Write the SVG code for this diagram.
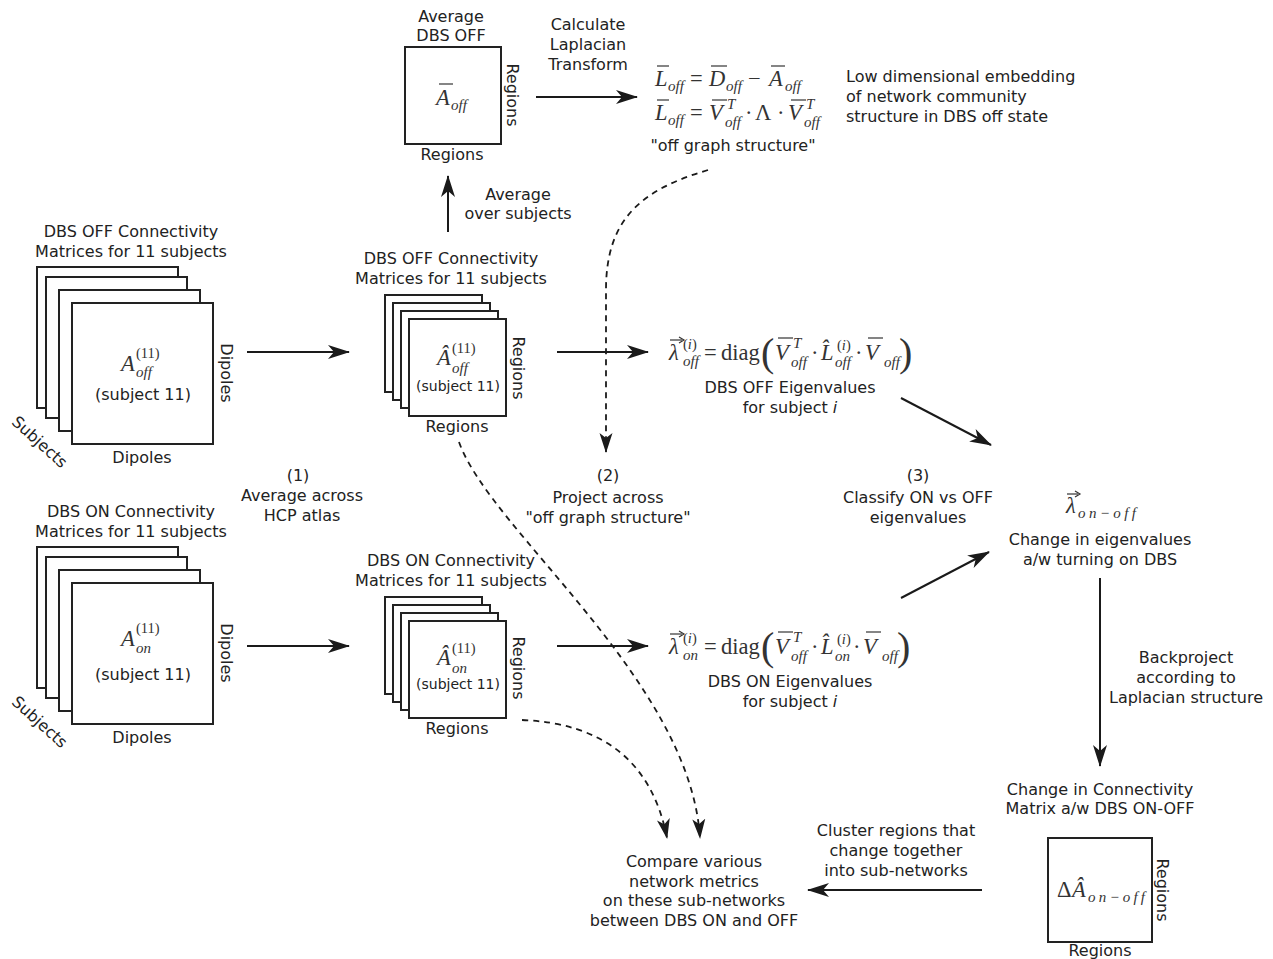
<svg xmlns="http://www.w3.org/2000/svg" width="1273" height="959" viewBox="0 0 1273 959">
<defs>
<style>
.t{font-family:"DejaVu Sans",Verdana,sans-serif;font-size:15.5px;fill:#222;text-anchor:middle}
.tl{font-family:"DejaVu Sans",Verdana,sans-serif;font-size:15.5px;fill:#222}
.s14{font-size:14px}
.s16{font-size:16px}
.m{font-family:"Liberation Serif",serif;font-style:italic;font-size:22.5px;fill:#333}
.mu{font-family:"Liberation Serif",serif;font-size:22.5px;fill:#333}
.ms{font-family:"Liberation Serif",serif;font-style:italic;font-size:15px;fill:#333}
.msu{font-family:"Liberation Serif",serif;font-size:14.5px;fill:#333}
.par{font-family:"Liberation Serif",serif;font-size:40px;fill:#333}
.box{fill:#fff;stroke:#222;stroke-width:2}
.ov{stroke:#333;stroke-width:1.2}
.ln{fill:none;stroke:#1a1a1a;stroke-width:2}
.dl{fill:none;stroke:#1a1a1a;stroke-width:1.8;stroke-dasharray:6 5}
</style>
<marker id="ah" viewBox="0 0 22 16" refX="21" refY="8" markerWidth="22" markerHeight="16" markerUnits="userSpaceOnUse" orient="auto"><path d="M0,1 L22,8 L0,15 L6,8 z" fill="#1a1a1a"/></marker>
<marker id="ahd" viewBox="0 0 20 14" refX="19" refY="7" markerWidth="20" markerHeight="14" markerUnits="userSpaceOnUse" orient="auto"><path d="M0,0.5 L20,7 L0,13.5 L5,7 z" fill="#1a1a1a"/></marker>
</defs>

<g id="connectors">
<line class="ln" x1="536" y1="97" x2="637" y2="97" marker-end="url(#ah)"/>
<line class="ln" x1="448" y1="232" x2="448" y2="176" marker-end="url(#ah)"/>
<line class="ln" x1="247" y1="352" x2="349" y2="352" marker-end="url(#ah)"/>
<line class="ln" x1="557" y1="352" x2="648" y2="352" marker-end="url(#ah)"/>
<line class="ln" x1="901" y1="398" x2="991" y2="445" marker-end="url(#ah)"/>
<line class="ln" x1="247" y1="646" x2="349" y2="646" marker-end="url(#ah)"/>
<line class="ln" x1="557" y1="646" x2="648" y2="646" marker-end="url(#ah)"/>
<line class="ln" x1="901" y1="598" x2="989" y2="552" marker-end="url(#ah)"/>
<line class="ln" x1="1100" y1="578" x2="1100" y2="766" marker-end="url(#ah)"/>
<line class="ln" x1="982" y1="890" x2="808" y2="890" marker-end="url(#ah)"/>
<path class="dl" d="M708,170 C640,190 606,220 606,290 L606,452" marker-end="url(#ahd)"/>
<path class="dl" d="M459,442 C490,530 690,680 700,838" marker-end="url(#ahd)"/>
<path class="dl" d="M522,720 Q645,725 667,838" marker-end="url(#ahd)"/>
</g>

<g id="avg-off">
<text class="t s16" x="451" y="22">Average</text>
<text class="t s16" x="451" y="41">DBS OFF</text>
<rect class="box" x="405" y="47" width="96" height="97"/>
<text class="m" x="436" y="105">A</text>
<line class="ov" x1="439" y1="84" x2="453" y2="84"/>
<text class="ms" x="451" y="110">off</text>
<text class="t s16" transform="translate(507,95) rotate(90)">Regions</text>
<text class="t s16" x="452" y="160">Regions</text>
</g>

<g id="laplacian-label">
<text class="t s16" x="588" y="30">Calculate</text>
<text class="t s16" x="588" y="50">Laplacian</text>
<text class="t s16" x="588" y="70">Transform</text>
</g>

<g id="laplacian">
<text class="m" x="655" y="86">L</text>
<line class="ov" x1="657" y1="66" x2="669" y2="66"/>
<text class="ms" x="668" y="91">off</text>
<text class="mu" x="690" y="86">=</text>
<text class="m" x="709" y="86">D</text>
<line class="ov" x1="711" y1="66" x2="727" y2="66"/>
<text class="ms" x="726" y="91">off</text>
<text class="mu" x="748" y="86">−</text>
<text class="m" x="769" y="86">A</text>
<line class="ov" x1="771" y1="66" x2="785" y2="66"/>
<text class="ms" x="785" y="91">off</text>

<text class="m" x="655" y="120">L</text>
<line class="ov" x1="657" y1="100" x2="669" y2="100"/>
<text class="ms" x="668" y="125">off</text>
<text class="mu" x="690" y="120">=</text>
<text class="m" x="709" y="120">V</text>
<line class="ov" x1="712" y1="100" x2="727" y2="100"/>
<text class="ms" x="727" y="109">T</text>
<text class="ms" x="725" y="127">off</text>
<text class="mu" x="745" y="120">·</text>
<text class="mu" x="755" y="120">Λ</text>
<text class="mu" x="777" y="120">·</text>
<text class="m" x="788" y="120">V</text>
<line class="ov" x1="791" y1="100" x2="806" y2="100"/>
<text class="ms" x="806" y="109">T</text>
<text class="ms" x="804" y="127">off</text>
<text class="t s16" x="733" y="151">"off graph structure"</text>
</g>

<g id="low-dim">
<text class="tl s16" x="846" y="82">Low dimensional embedding</text>
<text class="tl s16" x="846" y="102">of network community</text>
<text class="tl s16" x="846" y="122">structure in DBS off state</text>
</g>

<g id="avg-label">
<text class="t s16" x="518" y="200">Average</text>
<text class="t s16" x="518" y="219">over subjects</text>
</g>

<g id="off-dipoles">
<text class="t s16" x="131" y="237">DBS OFF Connectivity</text>
<text class="t s16" x="131" y="257">Matrices for 11 subjects</text>
<rect class="box" x="37" y="267" width="141" height="141"/>
<rect class="box" x="46" y="277" width="141" height="141"/>
<rect class="box" x="59" y="290" width="141" height="141"/>
<rect class="box" x="72" y="303" width="141" height="141"/>
<text class="m" x="121" y="371">A</text>
<text class="msu" x="136" y="358">(11)</text>
<text class="ms" x="136" y="377">off</text>
<text class="t s16" x="143" y="400">(subject 11)</text>
<text class="t s16" transform="translate(221,373) rotate(90)">Dipoles</text>
<text class="t s16" x="142" y="463">Dipoles</text>
<text class="t s16" transform="translate(36,446) rotate(42)">Subjects</text>
</g>

<g id="off-regions">
<text class="t s16" x="451" y="264">DBS OFF Connectivity</text>
<text class="t s16" x="451" y="284">Matrices for 11 subjects</text>
<rect class="box" x="385" y="295" width="97" height="97"/>
<rect class="box" x="393" y="303" width="97" height="97"/>
<rect class="box" x="401" y="311" width="97" height="97"/>
<rect class="box" x="409" y="319" width="97" height="97"/>
<text class="m" x="437" y="365">Â</text>
<text class="msu" x="452" y="353">(11)</text>
<text class="ms" x="452" y="373">off</text>
<text class="t s14" x="458" y="391">(subject 11)</text>
<text class="t s16" transform="translate(513,368) rotate(90)">Regions</text>
<text class="t s16" x="457" y="432">Regions</text>
</g>

<g id="off-eigen">
<text class="m" x="669" y="360">λ</text>
<line class="ov" x1="670" y1="340" x2="682" y2="340"/>
<path d="M679,337 L684,340 L679,343" fill="none" stroke="#333" stroke-width="1.2"/>
<text class="msu" x="683" y="349">(<tspan font-style="italic">i</tspan>)</text>
<text class="ms" x="683" y="366">off</text>
<text class="mu" x="704" y="360">=</text>
<text class="mu" x="721" y="360">diag</text>
<text class="par" x="761" y="366">(</text>
<text class="m" x="775" y="360">V</text>
<line class="ov" x1="778" y1="338" x2="793" y2="338"/>
<text class="ms" x="793" y="348">T</text>
<text class="ms" x="791" y="367">off</text>
<text class="mu" x="811" y="360">·</text>
<text class="m" x="821" y="360">L̂</text>
<text class="msu" x="837" y="350">(<tspan font-style="italic">i</tspan>)</text>
<text class="ms" x="835" y="367">off</text>
<text class="mu" x="855" y="360">·</text>
<text class="m" x="865" y="360">V</text>
<line class="ov" x1="868" y1="338" x2="883" y2="338"/>
<text class="ms" x="884" y="367">off</text>
<text class="par" x="899" y="366">)</text>
<text class="t s16" x="790" y="393">DBS OFF Eigenvalues</text>
<text class="t s16" x="790" y="413">for subject <tspan font-style="italic">i</tspan></text>
</g>

<g id="step1">
<text class="t s16" x="298" y="481">(1)</text>
<text class="t s16" x="302" y="501">Average across</text>
<text class="t s16" x="302" y="521">HCP atlas</text>
</g>
<g id="step2">
<text class="t s16" x="608" y="481">(2)</text>
<text class="t s16" x="608" y="503">Project across</text>
<text class="t s16" x="608" y="523">"off graph structure"</text>
</g>
<g id="step3">
<text class="t s16" x="918" y="481">(3)</text>
<text class="t s16" x="918" y="503">Classify ON vs OFF</text>
<text class="t s16" x="918" y="523">eigenvalues</text>
</g>

<g id="on-dipoles">
<text class="t s16" x="131" y="517">DBS ON Connectivity</text>
<text class="t s16" x="131" y="537">Matrices for 11 subjects</text>
<rect class="box" x="37" y="547" width="141" height="141"/>
<rect class="box" x="46" y="557" width="141" height="141"/>
<rect class="box" x="59" y="570" width="141" height="141"/>
<rect class="box" x="72" y="583" width="141" height="141"/>
<text class="m" x="121" y="646">A</text>
<text class="msu" x="136" y="633">(11)</text>
<text class="ms" x="136" y="653">on</text>
<text class="t s16" x="143" y="680">(subject 11)</text>
<text class="t s16" transform="translate(221,653) rotate(90)">Dipoles</text>
<text class="t s16" x="142" y="743">Dipoles</text>
<text class="t s16" transform="translate(36,726) rotate(42)">Subjects</text>
</g>

<g id="on-regions">
<text class="t s16" x="451" y="566">DBS ON Connectivity</text>
<text class="t s16" x="451" y="586">Matrices for 11 subjects</text>
<rect class="box" x="385" y="597" width="97" height="97"/>
<rect class="box" x="393" y="605" width="97" height="97"/>
<rect class="box" x="401" y="613" width="97" height="97"/>
<rect class="box" x="409" y="621" width="97" height="97"/>
<text class="m" x="437" y="665">Â</text>
<text class="msu" x="452" y="653">(11)</text>
<text class="ms" x="452" y="673">on</text>
<text class="t s14" x="458" y="689">(subject 11)</text>
<text class="t s16" transform="translate(513,668) rotate(90)">Regions</text>
<text class="t s16" x="457" y="734">Regions</text>
</g>

<g id="on-eigen">
<text class="m" x="669" y="654">λ</text>
<line class="ov" x1="670" y1="634" x2="682" y2="634"/>
<path d="M679,631 L684,634 L679,637" fill="none" stroke="#333" stroke-width="1.2"/>
<text class="msu" x="683" y="643">(<tspan font-style="italic">i</tspan>)</text>
<text class="ms" x="683" y="660">on</text>
<text class="mu" x="704" y="654">=</text>
<text class="mu" x="721" y="654">diag</text>
<text class="par" x="761" y="660">(</text>
<text class="m" x="775" y="654">V</text>
<line class="ov" x1="778" y1="632" x2="793" y2="632"/>
<text class="ms" x="793" y="642">T</text>
<text class="ms" x="791" y="661">off</text>
<text class="mu" x="811" y="654">·</text>
<text class="m" x="821" y="654">L̂</text>
<text class="msu" x="837" y="644">(<tspan font-style="italic">i</tspan>)</text>
<text class="ms" x="835" y="661">on</text>
<text class="mu" x="853" y="654">·</text>
<text class="m" x="863" y="654">V</text>
<line class="ov" x1="866" y1="632" x2="881" y2="632"/>
<text class="ms" x="882" y="661">off</text>
<text class="par" x="897" y="660">)</text>
<text class="t s16" x="790" y="687">DBS ON Eigenvalues</text>
<text class="t s16" x="790" y="707">for subject <tspan font-style="italic">i</tspan></text>
</g>

<g id="delta-eigen">
<text class="m" x="1066" y="513">λ</text>
<line class="ov" x1="1067" y1="494" x2="1078" y2="494"/>
<path d="M1075,491 L1080,494 L1075,497" fill="none" stroke="#333" stroke-width="1.2"/>
<text class="ms" x="1078" y="518" textLength="58" lengthAdjust="spacing">on−off</text>
<text class="t s16" x="1100" y="545">Change in eigenvalues</text>
<text class="t s16" x="1100" y="565">a/w turning on DBS</text>
</g>

<g id="backproject">
<text class="t s16" x="1186" y="663">Backproject</text>
<text class="t s16" x="1186" y="683">according to</text>
<text class="t s16" x="1186" y="703">Laplacian structure</text>
</g>

<g id="delta-matrix">
<text class="t s16" x="1100" y="795">Change in Connectivity</text>
<text class="t s16" x="1100" y="814">Matrix a/w DBS ON-OFF</text>
<rect class="box" x="1048" y="838" width="104" height="104"/>
<text class="mu" x="1057" y="897">Δ</text>
<text class="m" x="1072" y="897">Â</text>
<text class="ms" x="1088" y="902" textLength="57" lengthAdjust="spacing">on−off</text>
<text class="t s16" transform="translate(1157,890) rotate(90)">Regions</text>
<text class="t s16" x="1100" y="956">Regions</text>
</g>

<g id="cluster">
<text class="t s16" x="896" y="836">Cluster regions that</text>
<text class="t s16" x="896" y="856">change together</text>
<text class="t s16" x="896" y="876">into sub-networks</text>
</g>

<g id="compare">
<text class="t s16" x="694" y="867">Compare various</text>
<text class="t s16" x="694" y="887">network metrics</text>
<text class="t s16" x="694" y="906">on these sub-networks</text>
<text class="t s16" x="694" y="926">between DBS ON and OFF</text>
</g>
</svg>
